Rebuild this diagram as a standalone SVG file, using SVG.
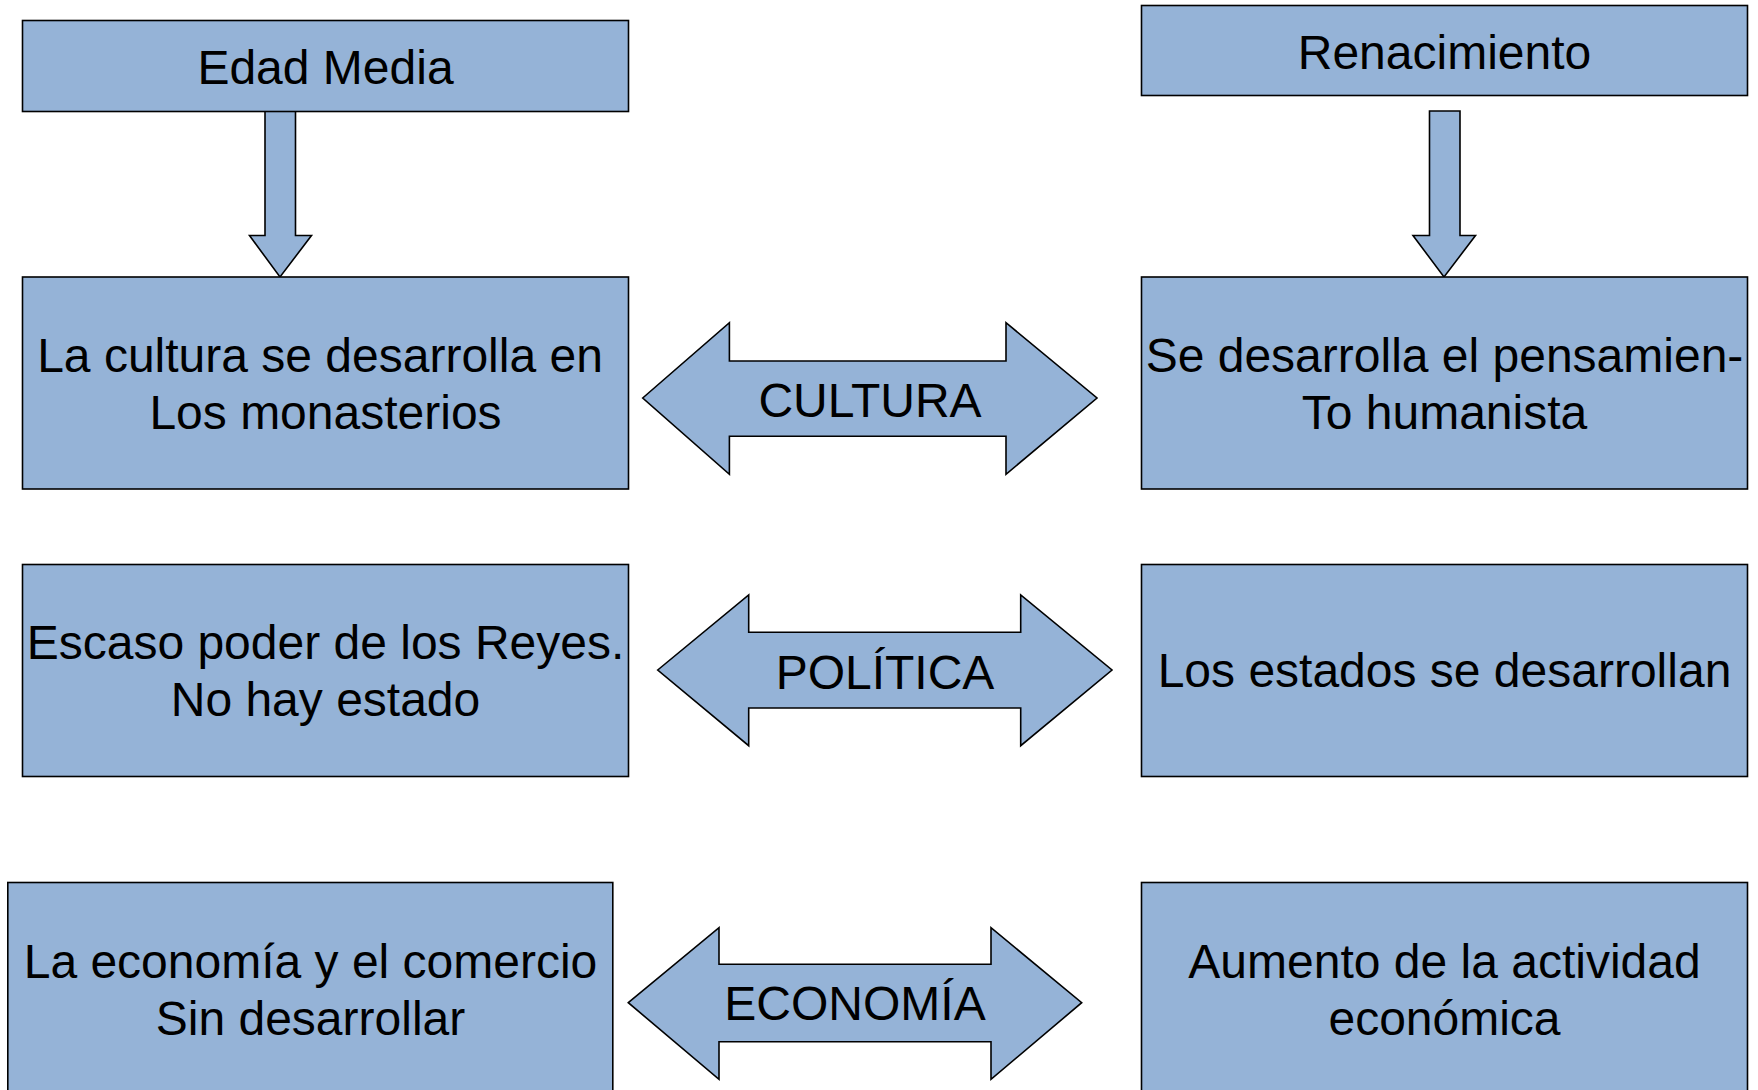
<svg xmlns="http://www.w3.org/2000/svg" width="1758" height="1090" viewBox="0 0 1758 1090">
<style>
.box{fill:#95b3d7;stroke:#000;stroke-width:1.6}
.arr{fill:#95b3d7;stroke:#000;stroke-width:1.6;stroke-linejoin:miter}
text{font-family:"Liberation Sans",Arial,sans-serif;font-size:48px;fill:#000;text-anchor:middle}
</style>
<rect width="1758" height="1090" fill="#fff"/>
<g id="connectors">
<polygon class="arr" points="265,111 295.5,111 295.5,235.5 311.5,235.5 280,277 249.5,235.5 265,235.5"/>
<polygon class="arr" points="1429.5,111 1460,111 1460,235.5 1475.5,235.5 1444,277 1413,235.5 1429.5,235.5"/>
</g>
<g id="edad-media"><rect class="box" x="22.5" y="20.5" width="606" height="91"/><text x="325.5" y="84">Edad Media</text></g>
<g id="renacimiento"><rect class="box" x="1141.5" y="5.5" width="606" height="90"/><text x="1444.5" y="69">Renacimiento</text></g>
<g id="cultura-edad"><rect class="box" x="22.5" y="277" width="606" height="212"/><text x="320" y="372">La cultura se desarrolla en</text><text x="325.5" y="429">Los monasterios</text></g>
<g id="cultura-ren"><rect class="box" x="1141.5" y="277" width="606" height="212"/><text x="1444.5" y="372">Se desarrolla el pensamien-</text><text x="1444.5" y="429">To humanista</text></g>
<g id="cultura"><polygon class="arr" points="642.7,398 729.4,322.7 729.4,361 1006,361 1006,322.7 1097,398 1006,474.3 1006,436.3 729.4,436.3 729.4,474.3"/><text x="870" y="416.5">CULTURA</text></g>
<g id="politica-edad"><rect class="box" x="22.5" y="564.5" width="606" height="212"/><text x="325.5" y="659">Escaso poder de los Reyes.</text><text x="325.5" y="716">No hay estado</text></g>
<g id="politica-ren"><rect class="box" x="1141.5" y="564.5" width="606" height="212"/><text x="1444.5" y="687">Los estados se desarrollan</text></g>
<g id="politica"><polygon class="arr" points="657.7,670 748.7,595 748.7,632.3 1020.7,632.3 1020.7,595 1112,670 1020.7,745.7 1020.7,708 748.7,708 748.7,745.7"/><text x="885" y="688.5">POLÍTICA</text></g>
<g id="economia-edad"><rect class="box" x="7.8" y="882.5" width="605" height="212"/><text x="310.5" y="977.5">La economía y el comercio</text><text x="310.5" y="1034.5">Sin desarrollar</text></g>
<g id="economia-ren"><rect class="box" x="1141.5" y="882.5" width="606" height="212"/><text x="1444.5" y="977.5">Aumento de la actividad</text><text x="1444.5" y="1034.5">económica</text></g>
<g id="economia"><polygon class="arr" points="628.3,1002.7 719,927.7 719,964.3 991,964.3 991,927.7 1081.7,1002.7 991,1079.3 991,1041.7 719,1041.7 719,1079.3"/><text x="855" y="1020">ECONOMÍA</text></g>
</svg>
